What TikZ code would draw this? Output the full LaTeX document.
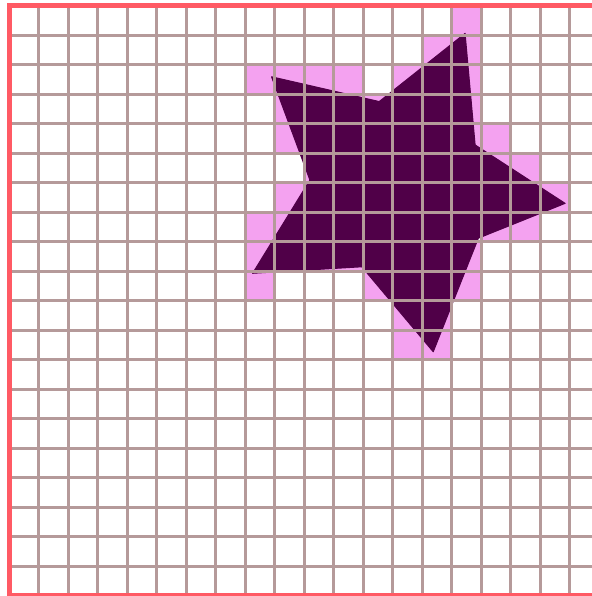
\documentclass[tikz,border=0pt]{standalone}
\usepackage{xcolor}
\usepackage{tikz}
\definecolor{gridgray}{RGB}{181,154,154}
\definecolor{framered}{RGB}{255,90,100}
\definecolor{starpurple}{RGB}{80,0,72}
\definecolor{hitpink}{RGB}{244,162,240}

\begin{document}
\begin{tikzpicture}[
  hit/.style     ={fill=hitpink},
  starfill/.style={fill=starpurple,draw=starpurple,line width=1pt,line join=round},
  gridline/.style={draw=gridgray,line width=2.9pt},
  frame/.style   ={draw=framered,line width=4.8pt}
]
\useasboundingbox[fill=white] (-0.315,0.193) rectangle (19.75,-20.01);
% cells touched by the star (column/row, rows counted from the top)
\foreach \c/\r in {15/0, 14/1,15/1,
    8/2,9/2,10/2,11/2,13/2,14/2,15/2,
    9/3,11/3,12/3,15/3,
    9/4,15/4,16/4,
    10/5,16/5,17/5,
    9/6,10/6,17/6,18/6,
    8/7,9/7,16/7,17/7,
    8/8,9/8,10/8,11/8,12/8,14/8,15/8,
    8/9,12/9,15/9,
    13/10,14/10,
    13/11,14/11}
  \fill[hit] (\c,-\r) rectangle ++(1,-1);
% the star itself
\filldraw[starfill] (15.45,-0.94) -- (15.79,-4.72) -- (18.84,-6.70) -- (15.90,-7.88)
  -- (14.37,-11.73) -- (11.95,-8.85) -- (8.25,-9.07) -- (10.19,-5.91)
  -- (8.89,-2.41) -- (12.54,-3.25) -- cycle;
\draw[gridline] (0,-20) grid (20.5,0);
% frame: its right side lies outside the picture
\draw[frame] (20.5,0) -- (0,0) -- (0,-20) -- (20.5,-20);
\end{tikzpicture}
\end{document}
